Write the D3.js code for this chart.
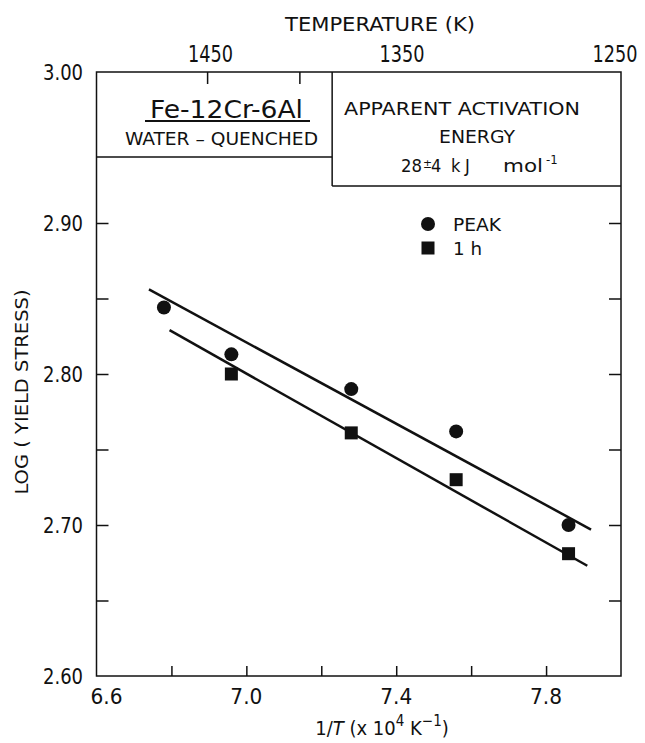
<!DOCTYPE html>
<html><head><meta charset="utf-8">
<script src="https://cdn.jsdelivr.net/npm/d3@7"></script>
<style>
html,body{margin:0;padding:0;background:#fff;}
text{font-family:"DejaVu Sans Condensed","DejaVu Sans",sans-serif;fill:#111;}
</style></head>
<body>
<svg id="chart" width="645" height="743"></svg>
<script>
// ---- data ----
const invTPeak = [6.78, 6.96, 7.28, 7.56, 7.86];
const logPeak  = [2.844, 2.813, 2.790, 2.762, 2.700];
const invT1h   = [6.96, 7.28, 7.56, 7.86];
const log1h    = [2.800, 2.761, 2.730, 2.681];
const fitPeakX = [6.74, 7.92];
const fitPeakY = [2.856, 2.697];
const fit1hX   = [6.795, 7.91];
const fit1hY   = [2.829, 2.673];
const xTicks = [6.8, 7.0, 7.2, 7.4, 7.6, 7.8];
const xTickLabels = ["6.6", "7.0", "7.4", "7.8"];
const yTicks = [2.65, 2.70, 2.75, 2.80, 2.85, 2.90];
const yTickLabels = ["2.60", "2.70", "2.80", "2.90", "3.00"];
const tempTicks = [1450, 1400];
const tempLabels = ["1450", "1350", "1250"];
const legendLabels = ["PEAK", "1 h"];
const boxSplitX = 7.229, leftBoxBottom = 2.9437, rightBoxBottom = 2.9245;

const svg = d3.select("#chart");
const x = d3.scaleLinear().domain([6.6, 8.0]).range([96.5, 621]);
const y = d3.scaleLinear().domain([2.60, 3.00]).range([676, 72]);
const tx = T => x(1e4 / T);
const ink = "#111";

function txt(str, px, py, size, len, anchor) {
  const t = svg.append("text").attr("x", px).attr("y", py)
    .attr("font-size", size).attr("text-anchor", anchor || "middle").text(str);
  if (len) t.attr("textLength", len).attr("lengthAdjust", "spacingAndGlyphs");
  return t;
}

// frame
svg.append("rect").attr("x", x(6.6)).attr("y", y(3.0))
  .attr("width", x(8.0) - x(6.6)).attr("height", y(2.6) - y(3.0))
  .attr("fill", "none").attr("stroke", ink).attr("stroke-width", 1.5);

// boxes
svg.append("line").attr("x1", x(6.6)).attr("x2", x(boxSplitX))
  .attr("y1", y(leftBoxBottom)).attr("y2", y(leftBoxBottom)).attr("stroke", ink).attr("stroke-width", 1.5);
svg.append("line").attr("x1", x(boxSplitX)).attr("x2", x(boxSplitX))
  .attr("y1", y(3.0)).attr("y2", y(rightBoxBottom)).attr("stroke", ink).attr("stroke-width", 1.5);
svg.append("line").attr("x1", x(boxSplitX)).attr("x2", x(8.0))
  .attr("y1", y(rightBoxBottom)).attr("y2", y(rightBoxBottom)).attr("stroke", ink).attr("stroke-width", 1.5);

// bottom axis ticks (inward)
const bAxis = svg.append("g").attr("transform", `translate(0,${y(2.6)})`)
  .call(d3.axisTop(x).tickValues(xTicks).tickSize(10).tickFormat(""));
bAxis.select(".domain").remove();
bAxis.selectAll("line").attr("stroke", ink).attr("stroke-width", 1.5);
xTickLabels.forEach(d => txt(d, x(+d) + (d === "6.6" ? 10 : 0), 704, 22, 32));

// left / right axis ticks
const lAxis = svg.append("g").attr("transform", `translate(${x(6.6)},0)`)
  .call(d3.axisRight(y).tickValues(yTicks).tickSize(12).tickFormat(""));
lAxis.select(".domain").remove();
lAxis.selectAll("line").attr("stroke", ink).attr("stroke-width", 1.5);
const rAxis = svg.append("g").attr("transform", `translate(${x(8.0)},0)`)
  .call(d3.axisLeft(y).tickValues(yTicks).tickSize(12).tickFormat(""));
rAxis.select(".domain").remove();
rAxis.selectAll("line").attr("stroke", ink).attr("stroke-width", 1.5);
yTickLabels.forEach(d => txt(d, 83, y(+d) + 8, 21, 40, "end"));

// top axis (temperature)
svg.selectAll(".ttick").data(tempTicks).enter().append("line")
  .attr("x1", d => tx(d)).attr("x2", d => tx(d))
  .attr("y1", y(3.0)).attr("y2", y(3.0) + 12).attr("stroke", ink).attr("stroke-width", 1.5);
tempLabels.forEach(d => txt(d, Math.min(tx(+d) + 3, 615), 62, 23, 45));
txt("TEMPERATURE  (K)", 380, 31, 19, 190);

// axis titles
svg.append("text").attr("transform", "translate(28,392) rotate(-90)")
  .attr("text-anchor", "middle").attr("font-size", 18)
  .attr("textLength", 205).attr("lengthAdjust", "spacingAndGlyphs").text("LOG ( YIELD STRESS)");
const xt = svg.append("text").attr("x", 382).attr("y", 735).attr("text-anchor", "middle").attr("font-size", 20);
xt.append("tspan").text("1/");
xt.append("tspan").attr("font-style", "italic").text("T");
xt.append("tspan").text("  (x 10");
xt.append("tspan").attr("dy", -9).attr("font-size", 15).text("4");
xt.append("tspan").attr("dy", 9).text("   K");
xt.append("tspan").attr("dy", -9).attr("font-size", 15).text("−1");
xt.append("tspan").attr("dy", 9).text(")");

// box texts
txt("Fe-12Cr-6Al", 226.5, 118, 25, 153);
svg.append("line").attr("x1", 145).attr("x2", 310).attr("y1", 121).attr("y2", 121)
  .attr("stroke", ink).attr("stroke-width", 2);
txt("WATER – QUENCHED", 221.5, 145, 18, 193);
txt("APPARENT  ACTIVATION", 462, 115, 18, 236);
txt("ENERGY", 477, 143, 18, 76);
const eY = 172;
txt("28", 401, eY, 18, 21, "start");
txt("±", 423, eY - 4, 12, null, "start");
txt("4", 431, eY, 18, null, "start");
txt("k", 451, eY, 18, null, "start");
txt("J", 465, eY, 18, null, "start");
txt("mol", 503, eY, 18, 40, "start");
txt("-1", 546, eY - 8, 13, null, "start");

// fit lines
svg.append("line").attr("x1", x(fitPeakX[0])).attr("y1", y(fitPeakY[0]))
  .attr("x2", x(fitPeakX[1])).attr("y2", y(fitPeakY[1])).attr("stroke", ink).attr("stroke-width", 2.5);
svg.append("line").attr("x1", x(fit1hX[0])).attr("y1", y(fit1hY[0]))
  .attr("x2", x(fit1hX[1])).attr("y2", y(fit1hY[1])).attr("stroke", ink).attr("stroke-width", 2.5);

// points
svg.selectAll(".pk").data(invTPeak).enter().append("circle")
  .attr("cx", d => x(d)).attr("cy", (d, i) => y(logPeak[i])).attr("r", 7).attr("fill", ink);
const sq = 13;
svg.selectAll(".oh").data(invT1h).enter().append("rect")
  .attr("x", d => x(d) - sq / 2).attr("y", (d, i) => y(log1h[i]) - sq / 2)
  .attr("width", sq).attr("height", sq).attr("fill", ink);

// legend
svg.append("circle").attr("cx", 428).attr("cy", 224).attr("r", 7).attr("fill", ink);
svg.append("rect").attr("x", 428 - sq / 2).attr("y", 248 - sq / 2).attr("width", sq).attr("height", sq).attr("fill", ink);
txt(legendLabels[0], 453, 231, 18, 48, "start");
txt(legendLabels[1], 453, 255, 18, 29, "start");
</script>
</body></html>
